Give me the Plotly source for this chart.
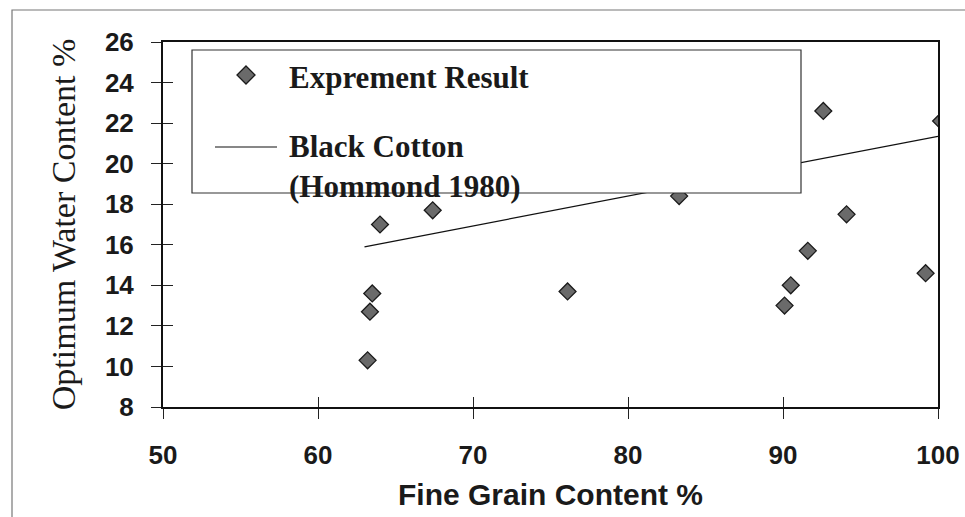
import plotly.graph_objects as go

# ---- data ----
fine_grain = [63.2, 63.35, 63.5, 64.0, 67.4, 76.1, 83.3, 90.1, 90.5, 90.3, 92.6, 94.1, 91.6, 100.2, 99.2]
water_content = [10.3, 12.7, 13.6, 17.0, 17.7, 13.7, 18.4, 13.0, 14.0, 21.9, 22.6, 17.5, 15.7, 22.1, 14.6]

trend_x = [63.0, 100.0]
trend_y = [15.9, 21.35]

x_ticks = [50, 60, 70, 80, 90, 100]
y_ticks = [8, 10, 12, 14, 16, 18, 20, 22, 24, 26]

series_names = ["Exprement Result", "Black Cotton<br>(Hommond 1980)"]
x_title = "Fine Grain Content %"
y_title = "Optimum Water Content %"

# ---- geometry (page pixels; body margin removed below) ----
W, H = 965, 517
PL, PR, PT, PB = 163, 938, 42, 407  # plot area
L, R, T, B = PL, W - PR, PT, H - PB
PW, PH = PR - PL, PB - PT


def px(x):
    return (x - PL) / PW


def py(y):
    return (PB - y) / PH


fig = go.Figure()

fig.add_trace(go.Scatter(
    x=trend_x, y=trend_y, mode="lines",
    line=dict(color="#111111", width=1.2),
    name="Black Cotton (Hommond 1980)", showlegend=False, hoverinfo="skip"))

fig.add_trace(go.Scatter(
    x=fine_grain, y=water_content, mode="markers",
    marker=dict(symbol="diamond", size=13, color="#6a6a6a",
                line=dict(color="#1a1a1a", width=1.3)),
    name="Exprement Result", showlegend=False))

# dummy trace to activate the overlaying axes used for inward tick marks
fig.add_trace(go.Scatter(x=[None], y=[None], xaxis="x2", yaxis="y2",
                         showlegend=False, hoverinfo="skip"))

tick_font = dict(family="Liberation Sans, Arial", size=26, color="#1a1a1a",
                 weight="bold")

fig.update_layout(
    width=W, height=H,
    margin=dict(l=L, r=R, t=T, b=B, autoexpand=False),
    paper_bgcolor="white", plot_bgcolor="white",
    showlegend=False,
    xaxis=dict(
        range=[50, 100], tickvals=x_ticks, ticktext=[str(v) for v in x_ticks],
        ticks="outside", ticklen=10, tickwidth=1.2, tickcolor="#222",
        showline=True, linecolor="#111", linewidth=2, mirror=True,
        showgrid=False, zeroline=False, ticklabeloverflow="allow",
        tickfont=tick_font, ticklabelstandoff=14,
        title=dict(text=x_title, standoff=15,
                   font=dict(family="Liberation Sans, Arial", size=30,
                             color="#1a1a1a", weight="bold")),
        automargin=False,
    ),
    yaxis=dict(
        range=[8, 26], tickvals=y_ticks, ticktext=[str(v) for v in y_ticks],
        ticks="outside", ticklen=10, tickwidth=1.2, tickcolor="#222",
        showline=True, linecolor="#111", linewidth=2, mirror=True,
        showgrid=False, zeroline=False, ticklabeloverflow="allow",
        tickfont=tick_font, ticklabelstandoff=12,
        title=dict(text=y_title, standoff=19,
                   font=dict(family="Liberation Serif, Times New Roman",
                             size=34, color="#1a1a1a")),
        automargin=False,
    ),
    xaxis2=dict(range=[50, 100], overlaying="x", anchor="y", tickvals=x_ticks,
                ticks="inside", ticklen=10, tickwidth=1.2, tickcolor="#222",
                showticklabels=False, showline=False, showgrid=False,
                zeroline=False),
    yaxis2=dict(range=[8, 26], overlaying="y", anchor="x", side="left",
                tickvals=y_ticks, ticks="inside", ticklen=10, tickwidth=1.2,
                tickcolor="#222", showticklabels=False, showline=False,
                showgrid=False, zeroline=False),
)

# outer frame (scanned page border)
fig.add_shape(type="rect", xref="paper", yref="paper",
              x0=px(12), x1=px(990), y0=py(540), y1=py(10),
              line=dict(color="#777777", width=1.2), fillcolor="rgba(0,0,0,0)",
              layer="below")

# legend box
fig.add_shape(type="rect", xref="paper", yref="paper",
              x0=px(192), x1=px(801), y0=py(193), y1=py(50),
              line=dict(color="#333333", width=1.2), fillcolor="white",
              layer="above")

# legend marker (diamond)
cx, cy, r = 246, 75, 9
fig.add_shape(type="path", xref="paper", yref="paper",
              path=(f"M {px(cx)},{py(cy - r)} L {px(cx + r)},{py(cy)} "
                    f"L {px(cx)},{py(cy + r)} L {px(cx - r)},{py(cy)} Z"),
              fillcolor="#6a6a6a", line=dict(color="#1a1a1a", width=1.3),
              layer="above")

# legend line
fig.add_shape(type="line", xref="paper", yref="paper",
              x0=px(215), x1=px(277), y0=py(147), y1=py(147),
              line=dict(color="#111111", width=1.2), layer="above")

legend_font = dict(family="Liberation Serif, Times New Roman", size=31,
                   color="#1a1a1a", weight="bold")
fig.add_annotation(xref="paper", yref="paper", x=px(287), y=py(77),
                   xanchor="left", yanchor="middle", showarrow=False,
                   text=series_names[0], font=legend_font, align="left")
fig.add_annotation(xref="paper", yref="paper", x=px(287), y=py(166),
                   xanchor="left", yanchor="middle", showarrow=False,
                   text=series_names[1], font=legend_font, align="left")

fig.write_html(
    "out.html",
    config={"displayModeBar": False},
    post_script="document.body.style.margin='0';"
                "document.body.style.overflow='hidden';",
)
